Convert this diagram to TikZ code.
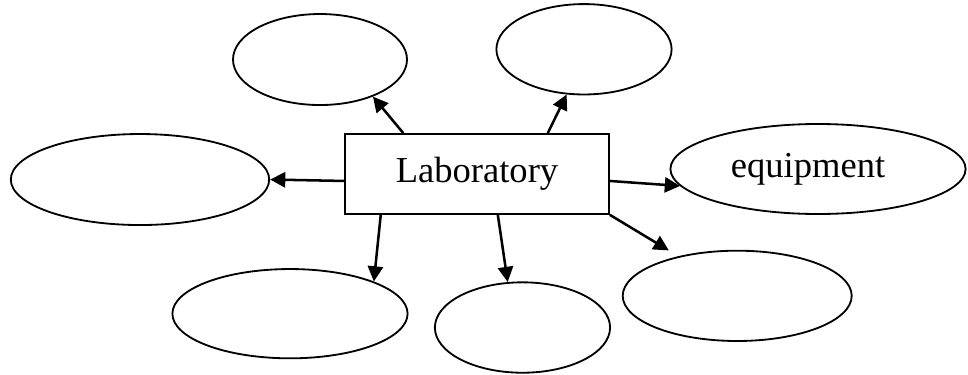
\documentclass[tikz,border=0pt]{standalone}
\usepackage{fontspec}
\setmainfont{Liberation Serif}
\usetikzlibrary{arrows.meta,shapes.geometric}
\begin{document}
\begin{tikzpicture}[
	bubble/.style={draw,ellipse,line width=0.65pt,inner sep=0pt},
	arr/.style={line width=0.9pt,-{Triangle[length=1.9mm,width=1.9mm]}},
	font=\fontsize{13}{15}\selectfont]
	\useasboundingbox(0,0)rectangle(12.1,-4.675);
	\node[draw,line width=0.6pt,minimum width=3.3cm,minimum height=1cm](lab)at(5.9625,-2.175){Laboratory};
	\node[bubble,minimum width=2.175cm,minimum height=1.1375cm](tl)at(4,-0.744){};
	\node[bubble,minimum width=2.19cm,minimum height=1.13cm](tr)at(7.3,-0.616){};
	\node[bubble,minimum width=3.23cm,minimum height=1.1375cm](left)at(1.75,-2.244){};
	\node[bubble,minimum width=3.69cm,minimum height=1.125cm](eq)at(10.225,-2.1125){\hspace*{-0.25cm}equipment};
	\node[bubble,minimum width=2.94cm,minimum height=1.116cm](bl)at(3.625,-3.921){};
	\node[bubble,minimum width=2.19cm,minimum height=1.13cm](bm)at(6.531,-4.094){};
	\node[bubble,minimum width=2.8625cm,minimum height=1.129cm](br)at(9.215,-3.698){};
	\draw[arr](lab.151)--(tl.-35);
	\draw[arr](lab.30.5)--(tr.-111);
	\draw[arr](lab.183)--(left.-0.5);
	\draw[arr](lab.-3)--(eq.187);
	\draw[arr](lab.-157)--(bl.21);
	\draw[arr](lab.-63)--(bm.108);
	\draw[arr,shorten >=1.4mm](lab.south east)--(br.146);
\end{tikzpicture}
\end{document}
